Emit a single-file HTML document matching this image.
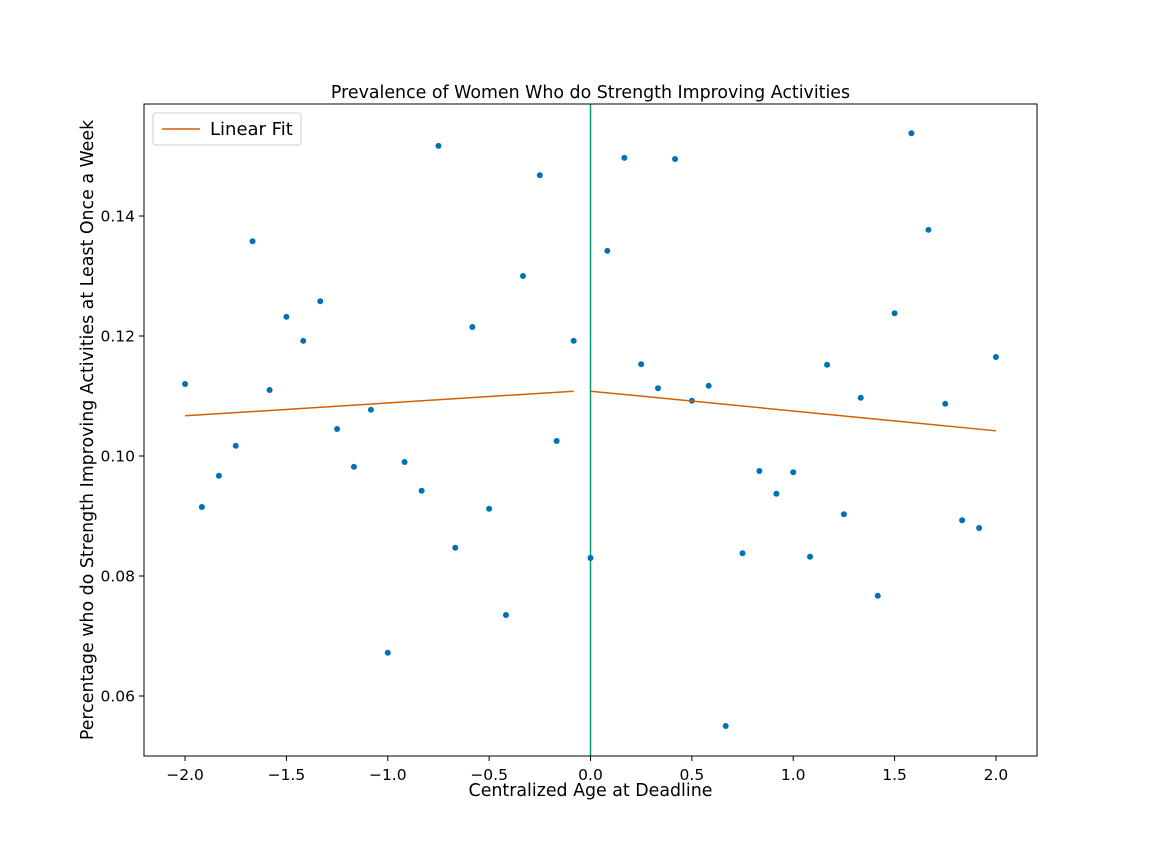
<!DOCTYPE html>
<html><head><meta charset="utf-8"><style>
html,body{margin:0;padding:0;background:#fff;}
svg{display:block;font-family:"DejaVu Sans","Liberation Sans",sans-serif;}
</style></head><body>
<svg id="chart" width="1152" height="864">
<rect width="1152" height="864" fill="#fff"/>
<g id="plot"></g>
</svg>
<script>
const xValues = [-2,-1.917,-1.833,-1.75,-1.667,-1.583,-1.5,-1.417,-1.333,-1.25,-1.167,-1.083,-1,-0.917,-0.833,-0.75,-0.667,-0.583,-0.5,-0.417,-0.333,-0.25,-0.167,-0.083,0,0.083,0.167,0.25,0.333,0.417,0.5,0.583,0.667,0.75,0.833,0.917,1,1.083,1.167,1.25,1.333,1.417,1.5,1.583,1.667,1.75,1.833,1.917,2];
const yValues = [0.112,0.0915,0.0967,0.1017,0.1358,0.111,0.1232,0.1192,0.1258,0.1045,0.0982,0.1077,0.0672,0.099,0.0942,0.1517,0.0847,0.1215,0.0912,0.0735,0.130,0.1468,0.1025,0.1192,0.083,0.1342,0.1497,0.1153,0.1113,0.1495,0.1092,0.1117,0.055,0.0838,0.0975,0.0937,0.0973,0.0832,0.1152,0.0903,0.1097,0.0767,0.1238,0.1538,0.1377,0.1087,0.0893,0.088,0.1165];
const xTicks = [-2.0,-1.5,-1.0,-0.5,0.0,0.5,1.0,1.5,2.0];
const yTicks = [0.06,0.08,0.10,0.12,0.14];
const leftFit = [0.1067,0.1108];
const rightFit = [0.1108,0.1042];

const L=144,R=1037,T=104,B=756;
const xMin=-2.2025,xMax=2.2025,yMin=0.05,yMax=0.15867;
const sx=v=>L+(v-xMin)/(xMax-xMin)*(R-L);
const sy=v=>B-(v-yMin)/(yMax-yMin)*(B-T);
const NS="http://www.w3.org/2000/svg";
const g=document.getElementById('plot');
function mk(tag,attrs,parent){const e=document.createElementNS(NS,tag);for(const k in attrs)e.setAttribute(k,attrs[k]);(parent||g).appendChild(e);return e;}
const fmt=(v,d)=>(v<0?'\u2212':'')+Math.abs(v).toFixed(d);

let vl=mk('line',{x1:sx(0),x2:sx(0),y1:T,y2:B,stroke:'#009E73','stroke-width':1.5});



xValues.forEach((x,i)=>{
  const c=mk('circle',{cx:sx(x),cy:sy(yValues[i]),r:3,fill:'#0072B2'});
  
  
});

let f1=mk('line',{x1:sx(-2),y1:sy(leftFit[0]),x2:sx(-0.083),y2:sy(leftFit[1]),stroke:'#D55E00','stroke-width':1.5});


let f2=mk('line',{x1:sx(0),y1:sy(rightFit[0]),x2:sx(2),y2:sy(rightFit[1]),stroke:'#D55E00','stroke-width':1.5});



let fr=mk('rect',{x:L,y:T,width:R-L,height:B-T,fill:'none',stroke:'#000','stroke-width':1});



xTicks.forEach(t=>{
  const x=sx(t);
  mk('line',{x1:x,x2:x,y1:B,y2:B+5,stroke:'#000'});
  const tx=mk('text',{x:x,y:B+24,'text-anchor':'middle','font-size':15.5,fill:'#000'});
  tx.textContent=fmt(t,1);
  
  
});
yTicks.forEach(t=>{
  const y=sy(t);
  mk('line',{x1:L-5,x2:L,y1:y,y2:y,stroke:'#000'});
  const tx=mk('text',{x:L-9,y:y+5.5,'text-anchor':'end','font-size':15.5,fill:'#000'});
  tx.textContent=fmt(t,2);
  
  
});

let tt=mk('text',{x:(L+R)/2,y:98,'text-anchor':'middle','font-size':17.4,fill:'#000'});
tt.textContent='Prevalence of Women Who do Strength Improving Activities';


let xt=mk('text',{x:(L+R)/2,y:796,'text-anchor':'middle','font-size':17.4,fill:'#000'});
xt.textContent='Centralized Age at Deadline';


let yt=mk('text',{x:0,y:0,'text-anchor':'middle','font-size':17.4,fill:'#000',transform:`translate(93,${(T+B)/2}) rotate(-90)`});
yt.textContent='Percentage who do Strength Improving Activities at Least Once a Week';



let lg=mk('g',{});


mk('rect',{x:153,y:113,width:148,height:32,rx:3,fill:'#fff',stroke:'#ccc'},lg);
mk('line',{x1:162,x2:200,y1:129,y2:129,stroke:'#D55E00','stroke-width':1.5},lg);
let lt=mk('text',{x:210,y:135,'font-size':18,fill:'#000'},lg);
lt.textContent='Linear Fit';


</script>
</body></html>
